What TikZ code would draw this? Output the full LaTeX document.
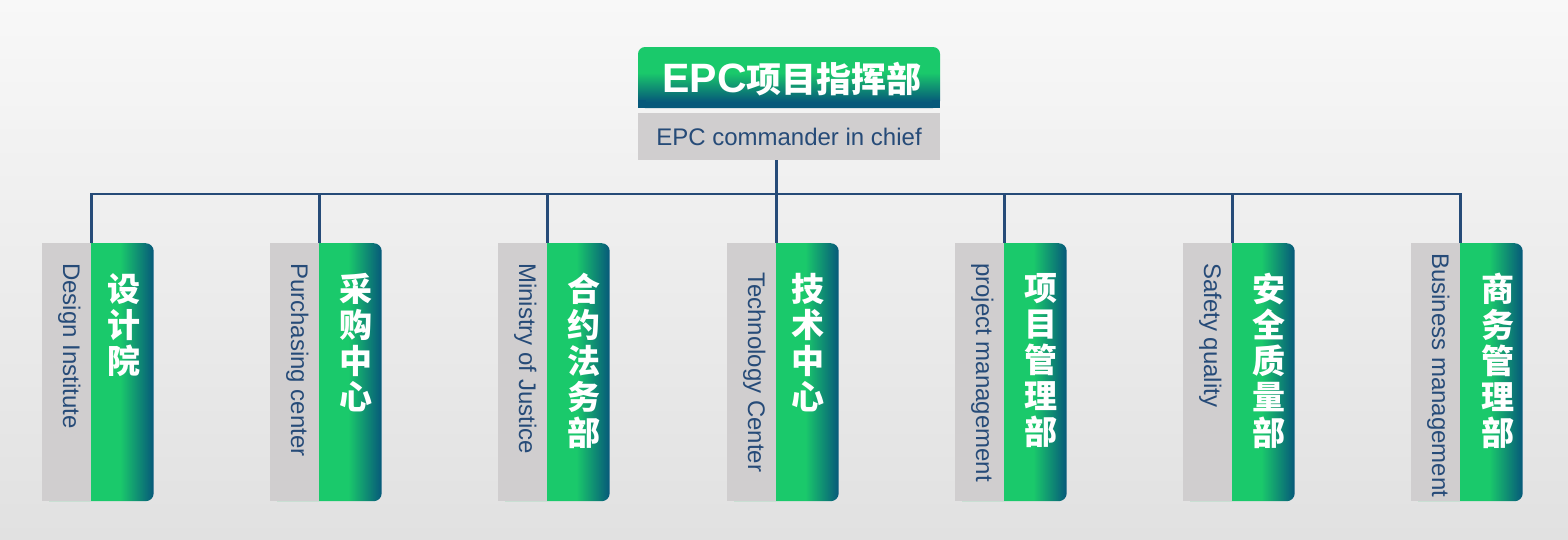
\documentclass[tikz,border=0pt]{standalone}
\usepackage{fontspec}
\setmainfont{Liberation Sans}
\newfontfamily\cjk{Noto Sans CJK SC}
\usepackage{xcolor}
\usetikzlibrary{calc}
\definecolor{epcgreen}{HTML}{1AC96B}
\definecolor{epcteal}{HTML}{06587A}
\definecolor{epcgray}{HTML}{D0CECF}
\definecolor{epcblue}{HTML}{264B78}
\definecolor{bgtop}{HTML}{F8F8F8}
\definecolor{bgbot}{HTML}{E1E1E1}
\pgfdeclarehorizontalshading{colshade}{100bp}{color(0bp)=(epcgreen); color(25bp)=(epcgreen); color(60bp)=(epcgreen); color(75bp)=(epcteal); color(100bp)=(epcteal)}
\pgfdeclareverticalshading{hdrshade}{100bp}{color(0bp)=(epcteal); color(30bp)=(epcteal); color(54bp)=(epcgreen); color(100bp)=(epcgreen)}

\begin{document}
\begin{tikzpicture}[x=1pt, y=-1pt,
  bus/.style={draw=epcblue, line width=2.6pt},
  colbox/.style={shading=colshade, rounded corners=8pt, minimum width=111.5pt, minimum height=258pt, inner sep=0pt, anchor=north west},
  engbox/.style={fill=epcgray, minimum width=49pt, minimum height=258pt, inner sep=0pt, anchor=north west},
  entext/.style={rotate=-90, anchor=base west, inner sep=0pt, text=epcblue, font=\fontsize{24}{26}\selectfont},
  zhtext/.style={anchor=north, inner sep=0pt, align=center, text=white, font=\cjk\bfseries\fontsize{33}{36}\selectfont}]
  \useasboundingbox (0,0) rectangle (1568,539);
  \fill[top color=bgtop, bottom color=bgbot] (0,0) rectangle (1568,539);

  \node[shading=hdrshade, rounded corners=7pt, minimum width=302pt, minimum height=61pt, inner sep=0pt] (hdr) at (789,77.5) {};
  \fill[epcteal] (hdr.south west) rectangle ++(8,-8);
  \fill[epcteal] (hdr.south east) rectangle ++(-8,-8);
  \node[anchor=base, inner sep=0pt, text=white] (hdrtxt) at (792,92) {\fontsize{41}{44}\selectfont\bfseries EPC{\cjk\fontsize{35}{44}\selectfont 项目指挥部}};
  \node[fill=epcgray, minimum width=302pt, minimum height=47pt, inner sep=0pt, text=epcblue, font=\fontsize{24}{26}\selectfont] (cmd) at (789,136.5) {EPC commander in chief};

  \node[colbox] (col1) at (42,243) {};
  \node[engbox] (gray1) at (42,243) {};
  \node[entext] (en1) at (63,263) {Design Institute};
  \node[zhtext] (zh1) at (124,273) {设\\计\\院};

  \node[colbox] (col2) at (270,243) {};
  \node[engbox] (gray2) at (270,243) {};
  \node[entext] (en2) at (291,263) {Purchasing center};
  \node[zhtext] (zh2) at (356,273) {采\\购\\中\\心};

  \node[colbox] (col3) at (498,243) {};
  \node[engbox] (gray3) at (498,243) {};
  \node[entext] (en3) at (519,263) {Ministry of Justice};
  \node[zhtext] (zh3) at (584,273) {合\\约\\法\\务\\部};

  \node[colbox] (col4) at (727,243) {};
  \node[engbox] (gray4) at (727,243) {};
  \node[entext] (en4) at (748,272) {Technology Center};
  \node[zhtext] (zh4) at (808,273) {技\\术\\中\\心};

  \node[colbox] (col5) at (955,243) {};
  \node[engbox] (gray5) at (955,243) {};
  \node[entext] (en5) at (976,263) {project management};
  \node[zhtext] (zh5) at (1041,273) {项\\目\\管\\理\\部};

  \node[colbox] (col6) at (1183,243) {};
  \node[engbox] (gray6) at (1183,243) {};
  \node[entext] (en6) at (1204,263) {Safety quality};
  \node[zhtext] (zh6) at (1269,273) {安\\全\\质\\量\\部};

  \node[colbox] (col7) at (1411,243) {};
  \node[engbox] (gray7) at (1411,243) {};
  \node[entext] (en7) at (1432,253) {Business management};
  \node[zhtext] (zh7) at (1498,273) {商\\务\\管\\理\\部};

  \coordinate (bus) at (776,194);
  \draw[bus] (gray1.north east) |- (bus) -| (gray7.north east);
  \draw[bus] (cmd.south -| gray4.north east) -- (gray4.north east);
  \draw[bus] (gray2.north east |- bus) -- (gray2.north east);
  \draw[bus] (gray3.north east |- bus) -- (gray3.north east);
  \draw[bus] (gray5.north east |- bus) -- (gray5.north east);
  \draw[bus] (gray6.north east |- bus) -- (gray6.north east);
\end{tikzpicture}
\end{document}
